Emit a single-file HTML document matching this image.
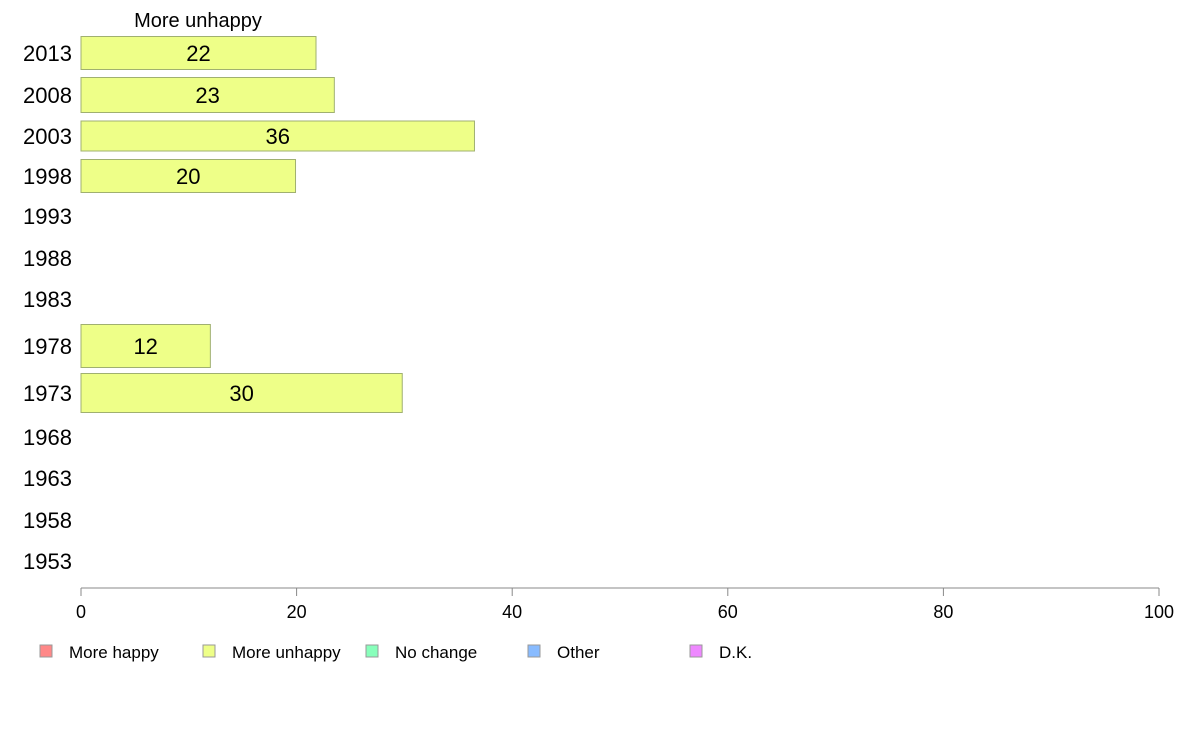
<!DOCTYPE html>
<html><head><meta charset="utf-8"><style>
body{margin:0;background:#fff;font-family:"Liberation Sans",sans-serif;}
svg text{font-family:"Liberation Sans",sans-serif;}
</style></head><body>
<svg id="chart" width="1188" height="736" viewBox="0 0 1188 736" xmlns="http://www.w3.org/2000/svg">
<text x="198" y="27" font-size="20" text-anchor="middle">More unhappy</text>
<g id="bars"></g>
<g id="yaxis"></g>
<g id="xaxis"></g>
<g id="legend"></g>
</svg>
<script>
const years = ["2013","2008","2003","1998","1993","1988","1983","1978","1973","1968","1963","1958","1953"];
const values = [21.8,23.5,36.5,19.9,null,null,null,12,29.8,null,null,null,null];
const valueLabels = ["22","23","36","20","","","","12","30","","","",""];
const xTicks = [0,20,40,60,80,100];
const legendLabels = ["More happy","More unhappy","No change","Other","D.K."];
const legendColors = ["#ff8888","#eeff88","#88ffbb","#88bbff","#ee88ff"];

const NS="http://www.w3.org/2000/svg";
const x0=81,x1=1159;
const xs=v=>x0+(x1-x0)*v/100;
const rowC=[53,95,136,176,216,258,299,346,393,437,478,520,561];
const rowH=[33,35,30,33,33,33,33,43,39,33,33,33,33];
function mk(t,a,p){const e=document.createElementNS(NS,t);for(const k in a)e.setAttribute(k,a[k]);p.appendChild(e);return e;}
const bars=document.getElementById('bars'),ya=document.getElementById('yaxis'),xa=document.getElementById('xaxis'),lg=document.getElementById('legend');
years.forEach((y,i)=>{
  const t=mk('text',{x:72,y:rowC[i]+8,'font-size':22,'text-anchor':'end'},ya);t.textContent=y;
  
  
  if(values[i]!=null){
    const r=mk('rect',{x:x0,y:rowC[i]-rowH[i]/2,width:xs(values[i])-x0,height:rowH[i],fill:'#eeff88',stroke:'#a0b070','stroke-width':1},bars);
    
    
    const l=mk('text',{x:(x0+xs(values[i]))/2,y:rowC[i]+8,'font-size':22,'text-anchor':'middle'},bars);l.textContent=valueLabels[i];
    
    
  }
});
const ax=mk('line',{x1:x0,x2:x1,y1:588,y2:588,stroke:'#888','stroke-width':1},xa);


xTicks.forEach(v=>{
  const tk=mk('line',{x1:xs(v),x2:xs(v),y1:588,y2:596,stroke:'#888'},xa);
  
  
  const t=mk('text',{x:xs(v),y:618,'font-size':18,'text-anchor':'middle'},xa);t.textContent=v;
  
  
});
const lx=[40,203,366,528,690];
legendLabels.forEach((s,i)=>{
  const g=mk('g',{},lg);
  
  
  mk('rect',{x:lx[i],y:645,width:12,height:12,fill:legendColors[i],stroke:'#999'},g);
  const t=mk('text',{x:lx[i]+29,y:658,'font-size':17},g);t.textContent=s;
});
</script>
</body></html>
